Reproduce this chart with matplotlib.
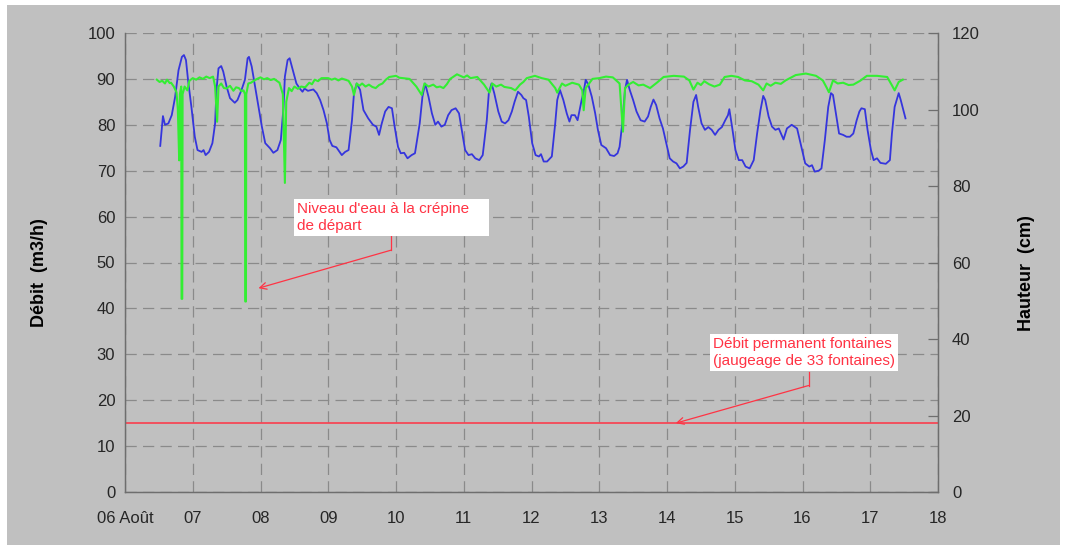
import matplotlib.pyplot as plt
import numpy as np
from matplotlib.patches import Rectangle

plt.rcParams['font.family'] = ['Liberation Sans', 'DejaVu Sans']

# --- data (jour d'aout, valeur) ---
debit_jour = np.array([
    6.52, 6.56, 6.59, 6.64, 6.69, 6.74, 6.79, 6.84, 6.87, 6.90, 6.93, 6.98,
    7.03, 7.07, 7.13, 7.16, 7.19, 7.24, 7.29, 7.33, 7.35, 7.38, 7.42, 7.45,
    7.50, 7.55, 7.62, 7.66, 7.72, 7.77, 7.81, 7.83, 7.87, 7.92, 7.97,
    8.02, 8.07, 8.14, 8.19, 8.25, 8.30, 8.34, 8.36, 8.40, 8.43, 8.47, 8.53,
    8.58, 8.62, 8.65, 8.70, 8.78, 8.83, 8.88, 8.93, 8.98,
    9.02, 9.06, 9.12, 9.20, 9.25, 9.30, 9.35, 9.38, 9.42, 9.47, 9.52, 9.59,
    9.66, 9.71, 9.75, 9.79, 9.84, 9.89, 9.94, 9.98,
    10.03, 10.07, 10.12, 10.17, 10.23, 10.28, 10.35, 10.39, 10.43, 10.48,
    10.53, 10.58, 10.62, 10.67, 10.72, 10.77, 10.82, 10.88, 10.93, 10.97,
    11.02, 11.07, 11.12, 11.17, 11.23, 11.28, 11.34, 11.37, 11.41, 11.45,
    11.51, 11.56, 11.61, 11.66, 11.71, 11.75, 11.80, 11.85, 11.88, 11.92, 11.96,
    12.01, 12.06, 12.11, 12.14, 12.18, 12.23, 12.30, 12.35, 12.38, 12.42,
    12.47, 12.52, 12.56, 12.59, 12.64, 12.68, 12.71, 12.74, 12.77, 12.80,
    12.84, 12.89, 12.94, 12.98,
    13.03, 13.10, 13.16, 13.22, 13.27, 13.30, 13.34, 13.38, 13.41, 13.45,
    13.50, 13.55, 13.61, 13.67, 13.72, 13.76, 13.80, 13.84, 13.89, 13.94, 13.99,
    14.04, 14.09, 14.14, 14.19, 14.24, 14.29, 14.34, 14.39, 14.43, 14.46,
    14.51, 14.56, 14.61, 14.66, 14.71, 14.76, 14.81, 14.86, 14.90, 14.92, 14.96,
    15.01, 15.06, 15.11, 15.16, 15.22, 15.28, 15.33, 15.38, 15.42, 15.45,
    15.50, 15.55, 15.60, 15.65, 15.72, 15.77, 15.84, 15.92, 15.96,
    16.04, 16.10, 16.14, 16.18, 16.24, 16.28, 16.33, 16.38, 16.42, 16.45,
    16.50, 16.54, 16.60, 16.65, 16.70, 16.75, 16.80, 16.84, 16.87, 16.92, 16.96,
    17.01, 17.05, 17.10, 17.15, 17.23, 17.29, 17.32, 17.36, 17.42, 17.45, 17.52])
debit = np.array([
    75.4, 81.9, 80.0, 80.3, 82.1, 86.1, 91.9, 94.8, 95.2, 94.1, 89.8, 83.9,
    77.4, 74.5, 74.1, 74.5, 73.4, 74.1, 76.0, 80.3, 87.6, 92.3, 92.8, 91.6,
    88.3, 85.8, 84.8, 85.4, 87.6, 89.8, 94.5, 94.8, 92.7, 88.3, 83.9,
    79.6, 76.0, 74.9, 73.9, 74.5, 76.7, 83.9, 90.5, 94.1, 94.5, 92.3, 89.0,
    87.9, 87.2, 87.9, 87.4, 87.7, 86.9, 85.4, 83.2, 80.3,
    76.7, 75.4, 75.1, 73.4, 74.1, 74.5, 81.0, 86.9, 89.0, 87.6, 83.2, 81.4,
    80.0, 79.6, 77.8, 80.3, 82.9, 83.9, 83.6, 79.6,
    75.2, 73.8, 73.9, 72.7, 73.4, 73.8, 80.3, 86.1, 89.0, 86.1,
    82.5, 80.0, 80.7, 79.6, 80.0, 82.1, 83.2, 83.6, 82.5, 78.9,
    74.5, 73.4, 73.6, 72.7, 72.3, 73.4, 81.0, 86.9, 89.0, 86.9,
    82.9, 80.7, 80.3, 81.0, 82.9, 85.0, 87.2, 86.5, 85.8, 85.4, 81.8,
    76.0, 73.4, 73.1, 73.6, 72.0, 72.0, 73.1, 80.3, 85.4, 87.6,
    85.4, 82.5, 80.7, 82.1, 82.1, 81.0, 83.2, 85.4, 87.2, 89.8,
    88.7, 86.1, 82.5, 78.9,
    75.6, 74.9, 73.4, 73.2, 73.8, 75.2, 80.3, 87.6, 89.8, 87.6,
    85.4, 82.9, 81.0, 80.7, 81.8, 83.9, 85.5, 84.3, 81.4, 79.2, 76.0,
    72.7, 72.0, 71.6, 70.5, 70.9, 71.7, 78.9, 85.0, 86.5, 83.9,
    80.3, 78.9, 79.5, 78.9, 77.8, 78.9, 79.5, 81.0, 82.1, 83.4, 79.6,
    74.5, 72.3, 72.3, 70.9, 70.5, 72.3, 78.1, 83.2, 86.3, 85.4,
    81.8, 79.6, 78.9, 79.2, 76.8, 79.2, 80.0, 79.2, 76.7,
    71.6, 70.9, 71.2, 69.8, 70.0, 70.5, 76.7, 83.9, 86.9, 86.5,
    81.8, 78.1, 77.8, 77.4, 77.4, 78.1, 81.0, 82.9, 83.6, 83.4, 78.9,
    74.5, 72.3, 72.7, 71.7, 71.5, 72.3, 78.1, 83.9, 86.9, 85.4, 81.4])

hauteur_jour = np.array([
    6.47, 6.51, 6.55, 6.59, 6.62, 6.66, 6.68, 6.72, 6.76, 6.78, 6.80, 6.81,
    6.83, 6.835, 6.845, 6.85, 6.88, 6.92, 6.95, 7.0, 7.05, 7.1, 7.15, 7.2,
    7.25, 7.3, 7.33, 7.36, 7.38, 7.42, 7.46, 7.5, 7.55, 7.6, 7.64, 7.68,
    7.72, 7.75, 7.77, 7.775, 7.785, 7.79, 7.82, 7.86, 7.9, 7.95, 8.0, 8.05,
    8.1, 8.15, 8.2, 8.28, 8.33, 8.36, 8.38, 8.42, 8.46, 8.5, 8.55, 8.6,
    8.66, 8.72, 8.76, 8.8, 8.85, 8.9, 9.0, 9.05, 9.1, 9.15, 9.2, 9.3,
    9.35, 9.38, 9.42, 9.46, 9.5, 9.55, 9.6, 9.65, 9.7, 9.75, 9.8, 9.85,
    9.9, 10.0, 10.05, 10.1, 10.2, 10.3, 10.38, 10.42, 10.48, 10.55, 10.6,
    10.65, 10.7, 10.75, 10.8, 10.9, 11.0, 11.05, 11.1, 11.2, 11.3, 11.38,
    11.42, 11.48, 11.55, 11.6, 11.7, 11.76, 11.83, 11.88, 11.93, 12.05,
    12.15, 12.25, 12.35, 12.38, 12.45, 12.5, 12.6, 12.7, 12.75, 12.77, 12.8,
    12.9, 13.0, 13.1, 13.2, 13.3, 13.35, 13.38, 13.44, 13.5, 13.58, 13.65,
    13.75, 13.85, 13.95, 14.1, 14.25, 14.33, 14.39, 14.45, 14.5, 14.55,
    14.62, 14.7, 14.78, 14.85, 14.95, 15.05, 15.15, 15.25, 15.35, 15.42,
    15.47, 15.53, 15.6, 15.68, 15.75, 15.9, 16.05, 16.2, 16.3, 16.36, 16.39,
    16.45, 16.52, 16.6, 16.68, 16.75, 16.85, 16.95, 17.1, 17.25, 17.33,
    17.36, 17.42, 17.48])
hauteur = np.array([
    107.8, 107.2, 107.5, 106.8, 107.8, 106.9, 107.0, 106.0, 104.5, 100.0, 86.7, 104.0,
    106.0, 50.5, 50.5, 104.0, 106.0, 105.0, 107.5, 108.2, 107.8, 108.4, 108.0, 108.6,
    108.2, 108.6, 106.0, 96.8, 106.0, 106.8, 105.6, 105.5, 106.2, 104.9, 105.8, 105.6,
    104.8, 105.0, 104.0, 49.8, 49.8, 104.0, 106.8, 107.0, 107.5, 108.0, 108.4, 107.9,
    108.2, 107.7, 108.0, 107.0, 104.0, 80.8, 102.0, 105.6, 104.8, 106.0, 105.4, 106.0,
    105.8, 107.0, 106.6, 107.8, 107.4, 108.2, 108.2, 107.8, 108.1, 107.6, 108.1, 107.5,
    106.0, 103.8, 106.8, 106.2, 106.8, 106.0, 106.5, 105.9, 105.6, 106.4, 106.8, 107.8,
    108.5, 108.8, 108.3, 108.2, 108.0, 106.0, 103.8, 106.8, 106.0, 106.5, 105.8,
    106.0, 105.6, 106.6, 108.0, 109.2, 108.4, 108.9, 108.2, 108.5, 106.5, 104.4,
    106.8, 106.0, 106.5, 105.9, 105.6, 105.0, 106.5, 107.2, 108.2, 108.8,
    108.2, 107.8, 105.6, 104.4, 106.8, 106.2, 107.0, 106.5, 105.0, 99.8, 105.6,
    108.0, 108.2, 108.6, 108.4, 106.8, 94.2, 105.6, 106.6, 107.2, 106.3, 106.5,
    105.6, 107.0, 108.5, 108.8, 108.6, 107.6, 105.2, 107.0, 106.4, 107.4,
    106.6, 106.0, 106.5, 108.5, 108.8, 108.5, 107.6, 107.4, 106.5, 105.0,
    106.8, 106.2, 107.0, 106.7, 107.6, 109.0, 109.4, 108.8, 107.6, 105.6, 104.5,
    107.6, 106.8, 107.0, 106.4, 106.5, 107.5, 108.8, 108.8, 108.5, 106.0,
    105.0, 107.2, 107.8])

debit_permanent = 15  # m3/h, jaugeage de 33 fontaines

jours_ticks = np.arange(6, 19)
jours_labels = ['06 Août'] + ['%02d' % j for j in jours_ticks[1:]]

fond = '#c0c0c0'
grille = '#8a8a8a'
texte = '#262626'
rouge = '#ff3344'

fig = plt.figure(figsize=(10.67, 5.53), dpi=100)
fig.patch.set_facecolor('white')
fig.add_artist(Rectangle((7 / 1067, 8 / 553), 1053 / 1067, 540 / 553,
                         transform=fig.transFigure, facecolor=fond,
                         edgecolor='none', zorder=-10))

ax = fig.add_axes([125 / 1067, 1 - 492 / 553, 813 / 1067, 459 / 553])
ax.set_facecolor(fond)
ax2 = ax.twinx()

ax.plot(debit_jour, debit, color='#3535dd', lw=1.3)
ax2.plot(hauteur_jour, hauteur, color='#33ee33', lw=1.5)
ax.axhline(debit_permanent, color=rouge, lw=1.1)

ax.set_xlim(6, 18)
ax.set_ylim(0, 100)
ax2.set_ylim(0, 120)
ax.set_xticks(jours_ticks)
ax.set_xticklabels(jours_labels)
ax.set_yticks(np.arange(0, 101, 10))
ax2.set_yticks(np.arange(0, 121, 20))

ax.grid(True, color=grille, lw=0.9, dashes=(9, 5))
ax.set_axisbelow(True)

for a in (ax, ax2):
    a.spines['top'].set_visible(False)
    for s in ('left', 'right', 'bottom'):
        a.spines[s].set_color('#6e6e6e')
        a.spines[s].set_linewidth(0.9)

ax.tick_params(axis='both', length=0, labelsize=12, colors=texte)
ax.tick_params(axis='y', pad=7)
ax.tick_params(axis='x', pad=14)
ax2.tick_params(axis='y', direction='in', length=7, width=0.9, color='#6e6e6e',
                labelsize=12, labelcolor=texte, pad=10)

ax.set_ylabel('Débit  (m3/h)', fontsize=13, fontweight='bold', color='black')
ax.yaxis.set_label_coords(-0.095, 0.478)
ax2.set_ylabel('Hauteur  (cm)', fontsize=13, fontweight='bold', color='black')
ax2.yaxis.set_label_coords(1.099, 0.478)

# annotations
boite = dict(boxstyle='square,pad=0.2', facecolor='white', edgecolor='none')
ax.text(8.54, 63.1, "Niveau d'eau à la crépine    \nde départ", color=rouge,
        fontsize=11, ha='left', va='top', bbox=boite, linespacing=1.2, zorder=5)
ax.plot([9.93, 9.93], [56.5, 52.7], color=rouge, lw=0.9)
ax.annotate('', xy=(7.97, 44.4), xytext=(9.93, 52.7),
            arrowprops=dict(arrowstyle='->', color=rouge, lw=0.9,
                            shrinkA=0, shrinkB=0, mutation_scale=12))

ax.text(14.68, 33.7, 'Débit permanent fontaines\n(jaugeage de 33 fontaines)',
        color=rouge, fontsize=11, ha='left', va='top', bbox=boite,
        linespacing=1.2, zorder=5)
ax.plot([16.09, 16.09], [26.2, 23.2], color=rouge, lw=0.9)
ax.annotate('', xy=(14.13, debit_permanent), xytext=(16.09, 23.2),
            arrowprops=dict(arrowstyle='->', color=rouge, lw=0.9,
                            shrinkA=0, shrinkB=0, mutation_scale=12))

plt.savefig('out.png', dpi=100)
